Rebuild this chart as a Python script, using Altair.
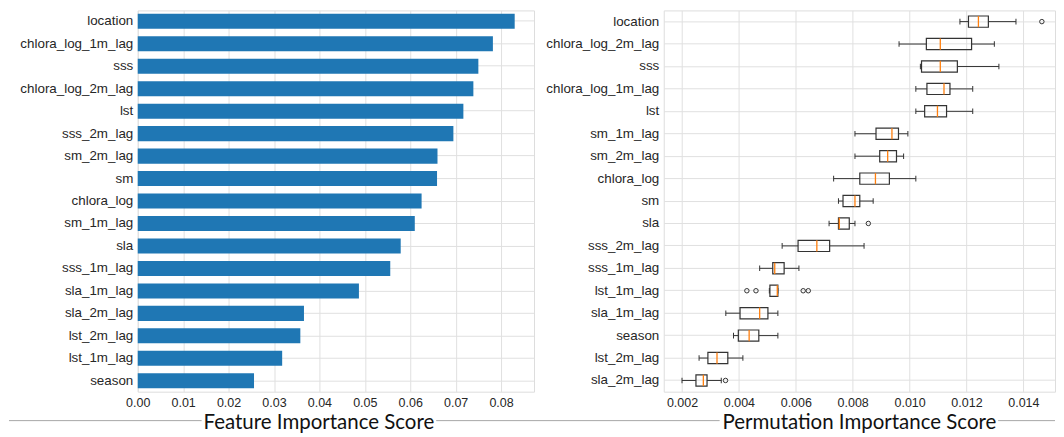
import altair as alt
import pandas as pd

# ---------------- data ----------------
left_features = ["location", "chlora_log_1m_lag", "sss", "chlora_log_2m_lag", "lst",
                 "sss_2m_lag", "sm_2m_lag", "sm", "chlora_log", "sm_1m_lag", "sla",
                 "sss_1m_lag", "sla_1m_lag", "sla_2m_lag", "lst_2m_lag", "lst_1m_lag", "season"]
left_scores = [0.0830, 0.0782, 0.0750, 0.0739, 0.0717, 0.0695, 0.0660, 0.0659, 0.0625,
               0.0610, 0.0579, 0.0556, 0.0487, 0.0366, 0.0358, 0.0318, 0.0256]

right_features = ["location", "chlora_log_2m_lag", "sss", "chlora_log_1m_lag", "lst",
                  "sm_1m_lag", "sm_2m_lag", "chlora_log", "sm", "sla", "sss_2m_lag",
                  "sss_1m_lag", "lst_1m_lag", "sla_1m_lag", "season", "lst_2m_lag", "sla_2m_lag"]
whisker_low = [0.01177, 0.00963, 0.01038, 0.01022, 0.01022, 0.00808, 0.00808, 0.00733, 0.00750,
               0.00717, 0.00552, 0.00473, 0.00507, 0.00354, 0.00381, 0.00260, 0.00200]
q1 = [0.01207, 0.01059, 0.01042, 0.01061, 0.01053, 0.00882, 0.00895, 0.00825, 0.00766,
      0.00750, 0.00608, 0.00519, 0.00509, 0.00404, 0.00398, 0.00291, 0.00249]
median = [0.01242, 0.01108, 0.01108, 0.01121, 0.01098, 0.00938, 0.00923, 0.00880, 0.00808,
          0.00753, 0.00674, 0.00526, 0.00535, 0.00473, 0.00436, 0.00323, 0.00275]
q3 = [0.01277, 0.01218, 0.01168, 0.01142, 0.01130, 0.00961, 0.00954, 0.00929, 0.00825,
      0.00788, 0.00719, 0.00559, 0.00537, 0.00502, 0.00470, 0.00361, 0.00288]
whisker_high = [0.01374, 0.01298, 0.01314, 0.01222, 0.01222, 0.00994, 0.00979, 0.01022, 0.00872,
                0.00808, 0.00840, 0.00611, 0.00537, 0.00537, 0.00537, 0.00414, 0.00338]
outlier_features = ["location", "sla", "lst_1m_lag", "lst_1m_lag", "lst_1m_lag", "lst_1m_lag", "sla_2m_lag"]
outlier_values = [0.01465, 0.00855, 0.00428, 0.00460, 0.00626, 0.00644, 0.00353]

left_ticks = [0.0, 0.01, 0.02, 0.03, 0.04, 0.05, 0.06, 0.07, 0.08]
right_ticks = [0.002, 0.004, 0.006, 0.008, 0.010, 0.012, 0.014]

left_df = pd.DataFrame({"feature": left_features, "score": left_scores})
box_df = pd.DataFrame({"feature": right_features, "lo": whisker_low, "q1": q1,
                       "med": median, "q3": q3, "hi": whisker_high})
out_df = pd.DataFrame({"feature": outlier_features, "value": outlier_values})
one = pd.DataFrame({"a": [0]})

# ---------------- styling ----------------
LW, RW, H = 397, 392, 382
LABEL_FONT = "Liberation Sans, Arial, sans-serif"
TITLE_FONT = "Lato"
LINE_GRAY = "#a8a8a8"
BOX_COL = "#333333"
GRID = "#e0e0e0"

y_axis = dict(title=None, ticks=False, domain=False, grid=True, labelFont=LABEL_FONT, labelFontSize=13.4,
              labelColor="#262626", labelPadding=5, gridColor=GRID, bandPosition=0.5)

# ---------------- left chart ----------------
lx = alt.X("score:Q",
           scale=alt.Scale(domain=[0, 0.08725], nice=False, zero=True),
           axis=alt.Axis(values=left_ticks, format=".2f", ticks=False, domain=False,
                         labelFont=LABEL_FONT, labelFontSize=12.5, labelColor="#262626",
                         labelPadding=5, labelFlush=False, gridColor=GRID,
                         title="Feature Importance Score", titleFont=TITLE_FONT,
                         titleFontSize=20.5, titleFontWeight="normal", titleColor="#111111",
                         titleX=181, titleY=37, titleAlign="center", titleBaseline="alphabetic"))
ly = alt.Y("feature:N", sort=left_features,
           scale=alt.Scale(paddingInner=0.33, paddingOuter=0.15),
           axis=alt.Axis(**y_axis))

bars = alt.Chart(left_df).mark_bar(color="#1f77b4").encode(x=lx, y=ly)
left_line = alt.Chart(one).mark_rule(color=LINE_GRAY, strokeWidth=1).encode(
    x=alt.value(-129), x2=alt.value(64), y=alt.value(411))
left = alt.layer(bars, left_line).properties(width=LW, height=H)

# ---------------- right chart ----------------
rscale = alt.Scale(domain=[0.001358, 0.001358 + RW / 28500.0], nice=False, zero=False)
rx_axis = alt.Axis(values=right_ticks, format=".3f", ticks=False, domain=False,
                   labelFont=LABEL_FONT, labelFontSize=12.5, labelColor="#262626",
                   labelPadding=5, labelFlush=False, gridColor=GRID,
                   title="Permutation Importance Score", titleFont=TITLE_FONT,
                   titleFontSize=20.5, titleFontWeight="normal", titleColor="#111111",
                   titleX=195.5, titleY=37, titleAlign="center", titleBaseline="alphabetic")
ry = alt.Y("feature:N", sort=right_features,
           scale=alt.Scale(paddingInner=0, paddingOuter=0),
           axis=alt.Axis(**y_axis))

base = alt.Chart(box_df)
wl = base.mark_rule(color=BOX_COL, strokeWidth=1).encode(
    x=alt.X("lo:Q", scale=rscale, axis=rx_axis), x2="q1:Q", y=ry)
wh = base.mark_rule(color=BOX_COL, strokeWidth=1).encode(x=alt.X("q3:Q", scale=rscale), x2="hi:Q", y=ry)
cap_lo = base.mark_tick(color=BOX_COL, size=5.6, thickness=1, opacity=1).encode(
    x=alt.X("lo:Q", scale=rscale), y=ry)
cap_hi = base.mark_tick(color=BOX_COL, size=5.6, thickness=1, opacity=1).encode(
    x=alt.X("hi:Q", scale=rscale), y=ry)
box = base.mark_bar(height=11.25, filled=False, stroke=BOX_COL, strokeWidth=1.2).encode(
    x=alt.X("q1:Q", scale=rscale), x2="q3:Q", y=ry)
med = base.mark_tick(color="#ff7f0e", size=11.25, thickness=1.3, opacity=1).encode(
    x=alt.X("med:Q", scale=rscale), y=ry)
outs = alt.Chart(out_df).mark_point(shape="circle", size=20, filled=False, color=BOX_COL,
                                    strokeWidth=1, opacity=1).encode(
    x=alt.X("value:Q", scale=rscale), y=ry)
rline1 = alt.Chart(one).mark_rule(color=LINE_GRAY, strokeWidth=1).encode(
    x=alt.value(-228), x2=alt.value(56), y=alt.value(411))
rline2 = alt.Chart(one).mark_rule(color=LINE_GRAY, strokeWidth=1).encode(
    x=alt.value(335), x2=alt.value(RW), y=alt.value(411))
right = alt.layer(wl, wh, cap_lo, cap_hi, box, med, outs, rline1, rline2).properties(width=RW, height=H)

chart = alt.hconcat(left, right, spacing=130, bounds="flush").properties(
    padding={"left": 0, "top": 1, "right": 0, "bottom": 0}
).configure_view(stroke="#cccccc", strokeWidth=1).configure(background="white")

chart.save("out.html", embed_options={"renderer": "svg", "actions": False})
